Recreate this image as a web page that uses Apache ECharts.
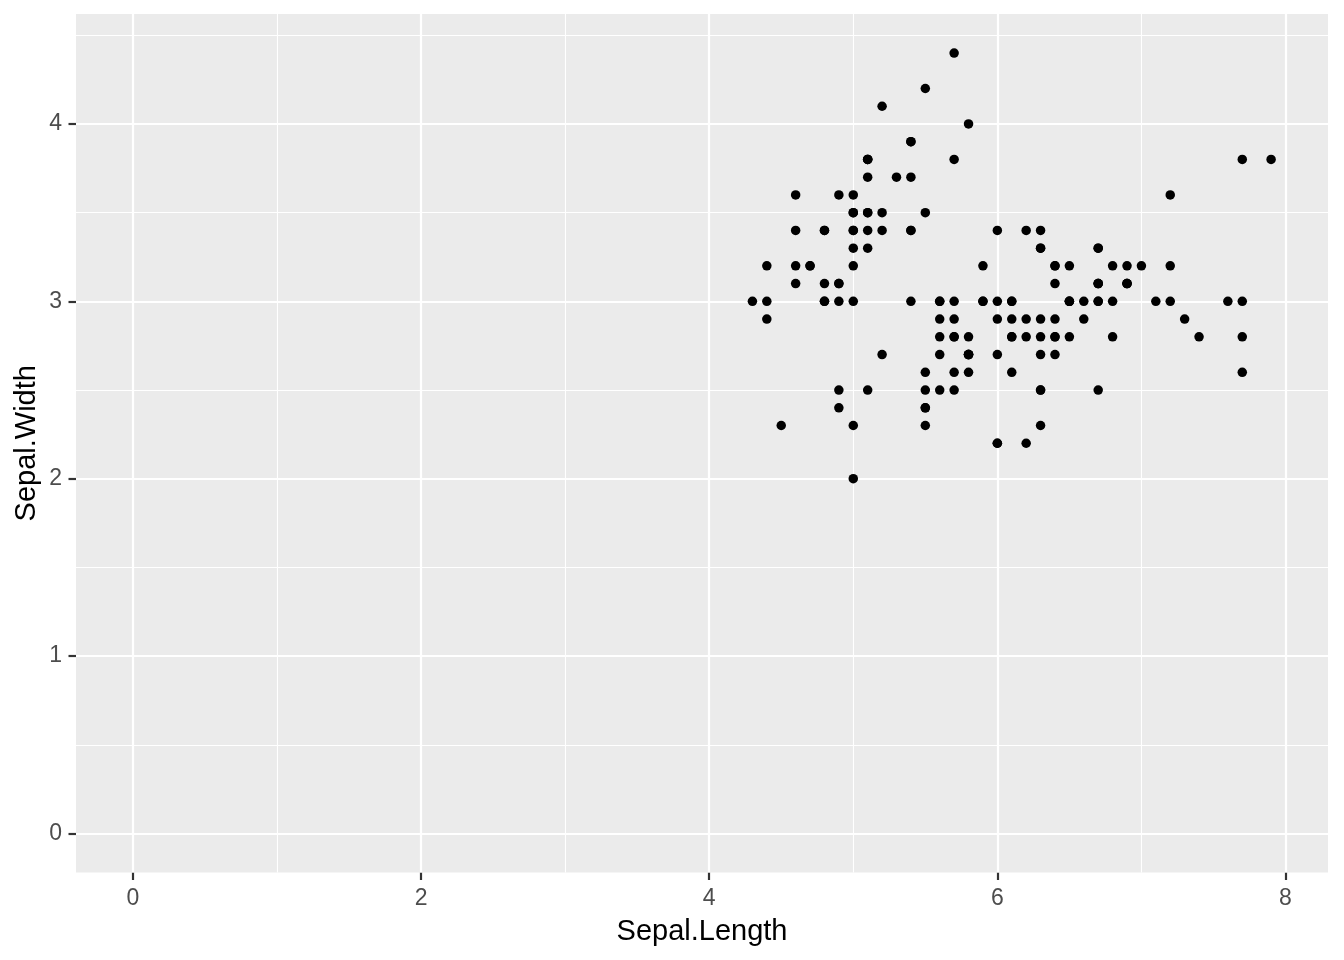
<!DOCTYPE html>
<html>
<head>
<meta charset="utf-8">
<script src="https://cdn.jsdelivr.net/npm/echarts@6/dist/echarts.min.js"></script>
<style>
html, body { margin: 0; padding: 0; background: #ffffff; }
#chart { width: 1344px; height: 960px; }
</style>
</head>
<body>
<div id="chart"></div>
<script>
// iris: Sepal.Length and Sepal.Width
var sepalLength = [
  5.1,4.9,4.7,4.6,5.0,5.4,4.6,5.0,4.4,4.9,5.4,4.8,4.8,4.3,5.8,5.7,5.4,5.1,5.7,5.1,
  5.4,5.1,4.6,5.1,4.8,5.0,5.0,5.2,5.2,4.7,4.8,5.4,5.2,5.5,4.9,5.0,5.5,4.9,4.4,5.1,
  5.0,4.5,4.4,5.0,5.1,4.8,5.1,4.6,5.3,5.0,7.0,6.4,6.9,5.5,6.5,5.7,6.3,4.9,6.6,5.2,
  5.0,5.9,6.0,6.1,5.6,6.7,5.6,5.8,6.2,5.6,5.9,6.1,6.3,6.1,6.4,6.6,6.8,6.7,6.0,5.7,
  5.5,5.5,5.8,6.0,5.4,6.0,6.7,6.3,5.6,5.5,5.5,6.1,5.8,5.0,5.6,5.7,5.7,6.2,5.1,5.7,
  6.3,5.8,7.1,6.3,6.5,7.6,4.9,7.3,6.7,7.2,6.5,6.4,6.8,5.7,5.8,6.4,6.5,7.7,7.7,6.0,
  6.9,5.6,7.7,6.3,6.7,7.2,6.2,6.1,6.4,7.2,7.4,7.9,6.4,6.3,6.1,7.7,6.3,6.4,6.0,6.9,
  6.7,6.9,5.8,6.8,6.7,6.7,6.3,6.5,6.2,5.9
];
var sepalWidth = [
  3.5,3.0,3.2,3.1,3.6,3.9,3.4,3.4,2.9,3.1,3.7,3.4,3.0,3.0,4.0,4.4,3.9,3.5,3.8,3.8,
  3.4,3.7,3.6,3.3,3.4,3.0,3.4,3.5,3.4,3.2,3.1,3.4,4.1,4.2,3.1,3.2,3.5,3.6,3.0,3.4,
  3.5,2.3,3.2,3.5,3.8,3.0,3.8,3.2,3.7,3.3,3.2,3.2,3.1,2.3,2.8,2.8,3.3,2.4,2.9,2.7,
  2.0,3.0,2.2,2.9,2.9,3.1,3.0,2.7,2.2,2.5,3.2,2.8,2.5,2.8,2.9,3.0,2.8,3.0,2.9,2.6,
  2.4,2.4,2.7,2.7,3.0,3.4,3.1,2.3,3.0,2.5,2.6,3.0,2.6,2.3,2.7,3.0,2.9,2.9,2.5,2.8,
  3.3,2.7,3.0,2.9,3.0,3.0,2.5,2.9,2.5,3.6,3.2,2.7,3.0,2.5,2.8,3.2,3.0,3.8,2.6,2.2,
  3.2,2.8,2.8,2.7,3.3,3.2,2.8,3.0,2.8,3.0,2.8,3.8,2.8,2.8,2.6,3.0,3.4,3.1,3.0,3.1,
  3.1,3.1,2.7,3.2,3.3,3.0,2.5,3.0,3.4,3.0
];

var xTicks = [0, 2, 4, 6, 8];
var xMinor = [1, 3, 5, 7];
var yTicks = [0, 1, 2, 3, 4];
var yMinor = [0.5, 1.5, 2.5, 3.5, 4.5];

var xTitle = 'Sepal.Length';
var yTitle = 'Sepal.Width';

var points = sepalLength.map(function (v, i) { return [v, sepalWidth[i]]; });

var FONT = '"Liberation Sans", Arial, sans-serif';
var majorW = 2.2, minorW = 1.1;
var X_MIN = -0.395, X_MAX = 8.295;

var gridLines = [];
xMinor.forEach(function (v) { gridLines.push({ xAxis: v, lineStyle: { color: '#ffffff', width: minorW, type: 'solid' } }); });
yMinor.forEach(function (v) { gridLines.push({ yAxis: v, lineStyle: { color: '#ffffff', width: minorW, type: 'solid' } }); });
xTicks.forEach(function (v) { gridLines.push({ xAxis: v, lineStyle: { color: '#ffffff', width: majorW, type: 'solid' } }); });
yTicks.forEach(function (v) { gridLines.push({ yAxis: v, lineStyle: { color: '#ffffff', width: majorW, type: 'solid' } }); });

var chart = echarts.init(document.getElementById('chart'), null, { renderer: 'canvas' });
chart.setOption({
  animation: false,
  backgroundColor: '#ffffff',
  grid: {
    left: 76, right: 16, top: 14, bottom: 87.5,
    containLabel: false,
    show: true,
    backgroundColor: '#EBEBEB',
    borderWidth: 0
  },
  xAxis: [
    {
      type: 'value',
      position: 'bottom',
      min: X_MIN, max: X_MAX,
      axisLine: { show: false, onZero: false },
      splitLine: { show: false },
      axisTick: { show: false },
      axisLabel: { customValues: xTicks, color: '#4D4D4D', fontSize: 23, fontFamily: FONT, margin: 15 },
      name: xTitle,
      nameLocation: 'middle',
      nameGap: 45,
      nameMoveOverlap: false,
      nameTextStyle: { color: '#000000', fontSize: 29, fontFamily: FONT }
    },
    {
      type: 'value',
      position: 'bottom',
      offset: 0,
      min: X_MIN, max: X_MAX,
      axisLine: { show: false, onZero: false },
      splitLine: { show: false },
      axisTick: { show: true, length: 7.5, customValues: xTicks, lineStyle: { color: '#333333', width: 2.2 } },
      axisLabel: { show: false, customValues: xTicks }
    }
  ],
  yAxis: {
    type: 'value',
    min: -0.22, max: 4.62,
    axisLine: { show: false, onZero: false },
    splitLine: { show: false },
    axisTick: { show: true, length: 7.5, customValues: yTicks, lineStyle: { color: '#333333', width: 2.2 } },
    axisLabel: { customValues: yTicks, color: '#4D4D4D', fontSize: 23, fontFamily: FONT, margin: 14 },
    name: yTitle,
    nameLocation: 'middle',
    nameRotate: 90,
    nameGap: 35,
    nameMoveOverlap: false,
    nameTextStyle: { color: '#000000', fontSize: 29, fontFamily: FONT }
  },
  series: [
    {
      type: 'scatter',
      data: [],
      z: 1,
      silent: true,
      markLine: {
        z: 1,
        silent: true,
        symbol: ['none', 'none'],
        label: { show: false },
        emphasis: { disabled: true },
        animation: false,
        data: gridLines
      }
    },
    {
      type: 'scatter',
      data: points,
      z: 10,
      symbol: 'circle',
      symbolSize: 9.5,
      itemStyle: { color: '#000000', opacity: 1 },
      emphasis: { disabled: true }
    }
  ]
});
</script>
</body>
</html>
